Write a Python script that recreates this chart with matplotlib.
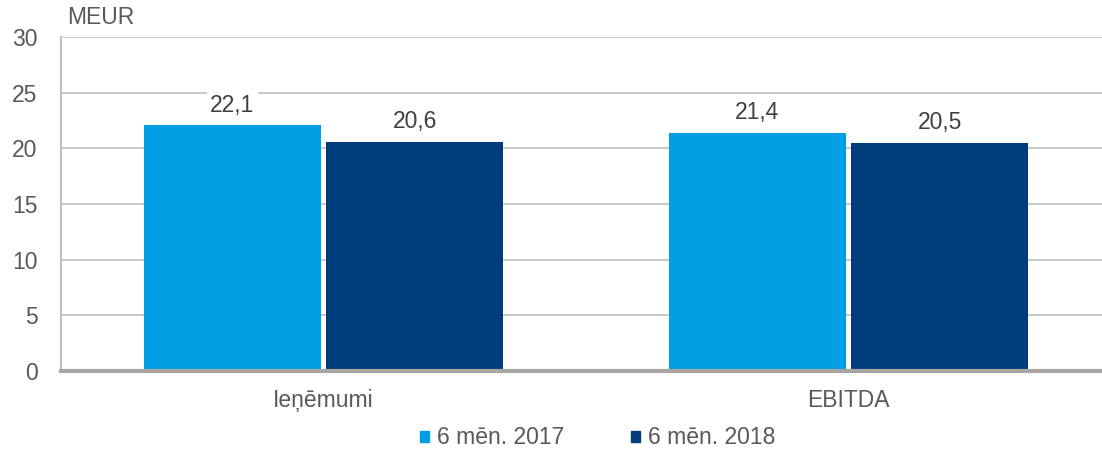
import matplotlib
matplotlib.use("Agg")
import matplotlib.pyplot as plt
import numpy as np
from matplotlib.patches import Patch

categories = ["Ieņēmumi", "EBITDA"]
series_names = ["6 mēn. 2017", "6 mēn. 2018"]
values_2017 = [22.1, 21.4]
values_2018 = [20.6, 20.5]
yticks = [0, 5, 10, 15, 20, 25, 30]

colors = ["#009FE3", "#003D7C"]
text_color = "#595959"
fs = 16.5

plt.rcParams['font.family'] = ['Liberation Sans', 'DejaVu Sans']

W, H = 1102, 451
fig = plt.figure(figsize=(W / 100, H / 100), dpi=100)
ax = fig.add_axes([61 / W, 80 / H, 1050 / W, 334 / H])

x = np.arange(len(categories))
bw = 0.337
off = 0.174
for vals, dx, c in [(values_2017, -off, colors[0]), (values_2018, off, colors[1])]:
    bars = ax.bar(x + dx, vals, width=bw, color=c, zorder=3)
    for b, v in zip(bars, vals):
        ax.annotate(f"{v:.1f}".replace(".", ","), (b.get_x() + b.get_width() / 2, v),
                    xytext=(0, 6), textcoords="offset points", ha="center", va="bottom",
                    fontsize=fs, color="#404040", zorder=5,
                    bbox=dict(boxstyle="square,pad=0.15", fc="white", ec="none"))

ax.set_xlim(-0.5, 1.5)
ax.set_ylim(0, 30)
ax.set_yticks(yticks)
ax.set_yticklabels([str(t) for t in yticks], fontsize=fs, color=text_color)
ax.set_xticks(x)
ax.set_xticklabels(categories, fontsize=fs, color=text_color)
ax.tick_params(axis="x", length=0, pad=13)
ax.tick_params(axis="y", length=0, pad=17)
ax.yaxis.grid(True, color="#BFBFBF", linewidth=1.2, zorder=0)
ax.set_axisbelow(True)
for s in ["top", "right"]:
    ax.spines[s].set_visible(False)
ax.spines["left"].set_color("#BFBFBF")
ax.spines["left"].set_linewidth(1.5)
ax.spines["bottom"].set_color("#A8A5A3")
ax.spines["bottom"].set_linewidth(3)
ax.spines["bottom"].set_zorder(4)

fig.text(67 / W, 1 - 18 / H, "MEUR", fontsize=fs, color=text_color, ha="left", va="center")

handles = [Patch(color=c) for c in colors]
fig.legend(handles, series_names, loc="center", bbox_to_anchor=(598 / W, 1 - 438 / H),
           ncol=2, frameon=False, fontsize=fs, handlelength=0.4, handleheight=0.4,
           handletextpad=0.35, columnspacing=2.9, labelcolor=text_color,
           borderpad=0, borderaxespad=0)

fig.savefig("out.png", dpi=100)
